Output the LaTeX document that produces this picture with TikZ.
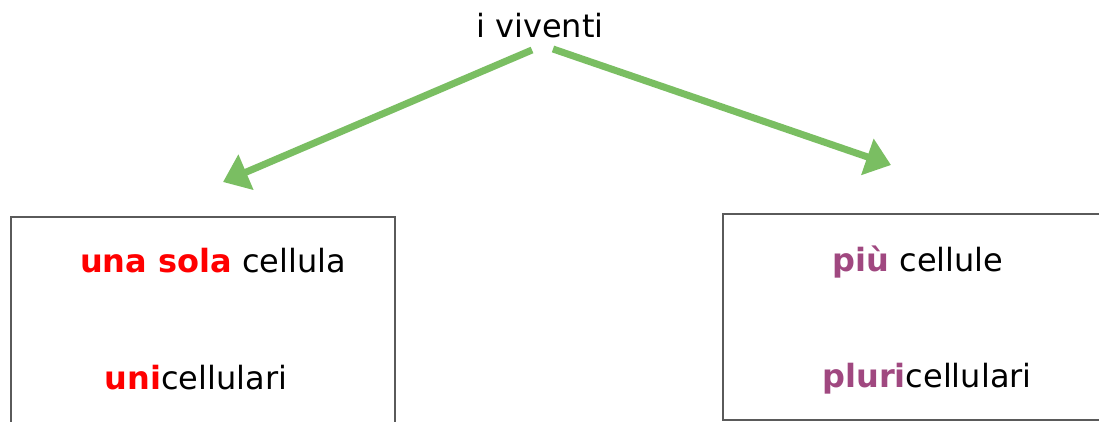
\documentclass[tikz,border=0pt]{standalone}
\usepackage{fontspec}
\setmainfont{DejaVu Sans}
\usetikzlibrary{arrows.meta}
\definecolor{arrowgreen}{RGB}{122,190,98}
\definecolor{redtxt}{RGB}{255,0,0}
\definecolor{purpletxt}{RGB}{160,72,128}
\definecolor{boxgray}{RGB}{90,90,90}
\tikzset{
  lbl/.style={inner sep=0pt, anchor=base, font=\fontsize{32}{38}\selectfont},
  catbox/.style={draw=boxgray, line width=1.2pt, inner sep=0pt},
  branch/.style={draw=arrowgreen, line width=7pt, -{Triangle[length=25pt,width=37pt]}}
}
\begin{document}
\begin{tikzpicture}[x=1pt,y=-1pt]
\useasboundingbox (0,0) rectangle (1099,421);
\clip (0,0) rectangle (1099,421);
\fill[white] (0,0) rectangle (1099,421);
% boxes
\node[catbox, minimum width=384pt, minimum height=226pt] (left) at (203,330) {};
\node[catbox, minimum width=387pt, minimum height=206pt] (right) at (916.5,317) {};
% texts
\node[lbl] (root) at (540,37) {i viventi};
\node[lbl] (l1) at (213,272) {\textbf{\color{redtxt}una sola} cellula};
\node[lbl] (l2) at (196,389) {\textbf{\color{redtxt}uni}cellulari};
\node[lbl] (r1) at (918,271) {\textbf{\color{purpletxt}più} cellule};
\node[lbl] (r2) at (927,387) {\textbf{\color{purpletxt}pluri}cellulari};
% arrows
\coordinate (ls) at (532,50);
\coordinate (le) at (223,182);
\coordinate (rs) at (553,49);
\coordinate (re) at (891,165);
\draw[branch] (ls) -- (le);
\draw[branch] (rs) -- (re);
\end{tikzpicture}
\end{document}
